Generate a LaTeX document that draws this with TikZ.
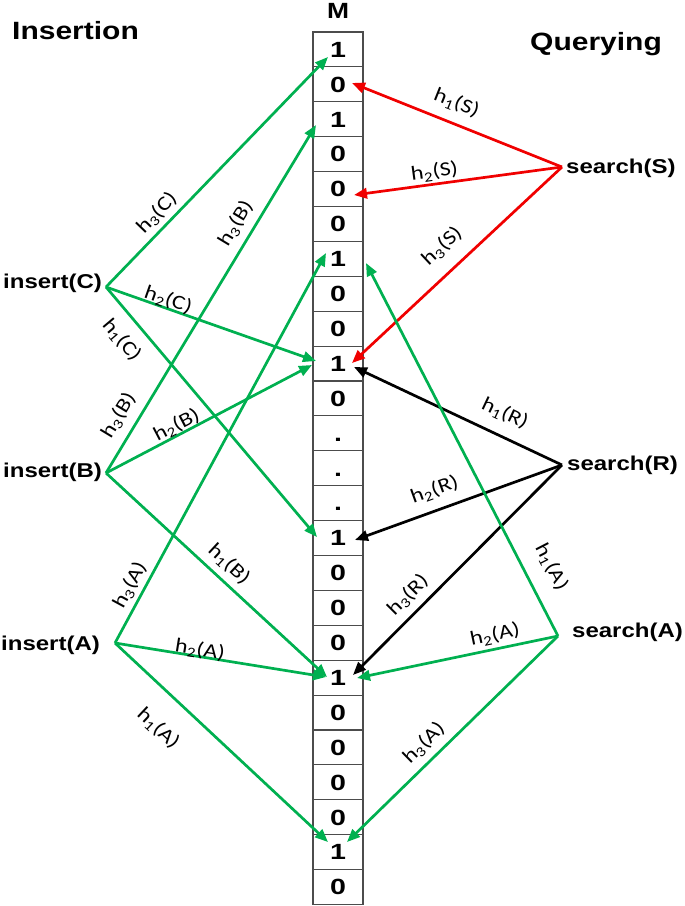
\documentclass[tikz,border=0pt]{standalone}
\usepackage{fontspec}
\setmainfont{Liberation Sans}
\newfontfamily\nodefam[FakeStretch=1.2]{Liberation Sans}
\newfontfamily\digfam[FakeStretch=1.3]{Liberation Sans}
\newfontfamily\labfam[FakeStretch=1.2]{Carlito}
\usetikzlibrary{arrows.meta}
\definecolor{bgreen}{RGB}{0,176,80}
\definecolor{bred}{RGB}{240,0,0}
\begin{document}
\begin{tikzpicture}[x=1pt,y=-1pt,
  cell/.style={draw=black!70,line width=1.1pt,minimum width=50pt,minimum height=34.9pt,inner sep=0pt,
    text height=15.5pt,text depth=0pt,font=\digfam\bfseries\fontsize{22}{22}\selectfont},
  title/.style={anchor=base west,inner sep=0pt,font=\nodefam\bfseries\fontsize{25}{25}\selectfont},
  op/.style={anchor=west,inner sep=0pt,font=\nodefam\bfseries\fontsize{20}{20}\selectfont},
  lab/.style={sloped,inner sep=0pt,font=\labfam\fontsize{20}{20}\selectfont},
  conn/.style={line width=2.7pt,-{Triangle[length=13pt,width=10.5pt]}},
  garrow/.style={conn,draw=bgreen},
  rarrow/.style={conn,draw=bred},
  karrow/.style={conn,draw=black}]
\useasboundingbox (0,0) rectangle (685,906);
% memory cells
\foreach \v [count=\i from 0] in {1,0,1,0,0,0,1,0,0,1,0,.,.,.,1,0,0,0,1,0,0,0,0,1,0}
  \node[cell] (c\i) at (338,49.45+34.9*\i) {\v};
% titles
\node[anchor=base,inner sep=0pt,font=\nodefam\bfseries\fontsize{22}{22}\selectfont] (M) at (338,18.5) {M};
\node[title] (ins) at (12,39) {Insertion};
\node[title] (qry) at (530,50) {Querying};
% operation nodes
\node[op] (insC) at (3,283) {insert(C)};
\node[op] (insB) at (3,472) {insert(B)};
\node[op] (insA) at (1,645) {insert(A)};
\node[op] (srS) at (566,168) {search(S)};
\node[op] (srR) at (567,465) {search(R)};
\node[op] (srA) at (572,632) {search(A)};
% connector start points
\coordinate (pC) at (106,287);
\coordinate (pB) at (106,473);
\coordinate (pA) at (115,643);
\coordinate (pS) at (562,167);
\coordinate (pR) at (562,465);
\coordinate (qA) at (558,636);
% connector tips
\coordinate (t3C) at (328,57);
\coordinate (t3B) at (316,125);
\coordinate (t2C) at (316,361);
\coordinate (t1C) at (317,537);
\coordinate (t2B) at (312,365);
\coordinate (t1B) at (327,677);
\coordinate (t3A) at (326,253);
\coordinate (t2A) at (326,677);
\coordinate (t1A) at (328,842);
\coordinate (u1S) at (352,83);
\coordinate (u2S) at (354,195);
\coordinate (u3S) at (352,363);
\coordinate (u1R) at (354,367);
\coordinate (u2R) at (355,540);
\coordinate (u3R) at (353,675);
\coordinate (u1A) at (366,263);
\coordinate (u2A) at (357,678);
\coordinate (u3A) at (347,842);
% insertion connectors
\draw[garrow] (pC) -- node[lab,pos=0.277,yshift=14.7pt] (l3C) {h\textsubscript{3}(C)} (t3C);
\draw[garrow] (pB) -- node[lab,pos=0.691,yshift=17.9pt] (l3Ba) {h\textsubscript{3}(B)}
                      node[lab,pos=0.1375,yshift=19pt] (l3Bb) {h\textsubscript{3}(B)} (t3B);
\draw[garrow] (pC) -- node[lab,pos=0.283,yshift=8.4pt] (l2C) {h\textsubscript{2}(C)} (t2C);
\draw[garrow] (pC) -- node[lab,pos=0.155,yshift=-22.2pt] (l1C) {h\textsubscript{1}(C)} (t1C);
\draw[garrow] (pB) -- node[lab,pos=0.365,yshift=9.7pt] (l2B) {h\textsubscript{2}(B)} (t2B);
\draw[garrow] (pB) -- node[lab,pos=0.506,yshift=16.5pt] (l1B) {h\textsubscript{1}(B)} (t1B);
\draw[garrow] (pA) -- node[lab,pos=0.131,yshift=14.4pt] (l3A) {h\textsubscript{3}(A)} (t3A);
\draw[garrow] (pA) -- node[lab,pos=0.398,yshift=6.6pt] (l2A) {h\textsubscript{2}(A)} (t2A);
\draw[garrow] (pA) -- node[lab,pos=0.309,yshift=-33pt] (l1A) {h\textsubscript{1}(A)} (t1A);
% querying connectors
\draw[rarrow] (pS) -- node[lab,pos=0.537,yshift=20pt] (m1S) {h\textsubscript{1}(S)} (u1S);
\draw[rarrow] (pS) -- node[lab,pos=0.605,yshift=12.3pt] (m2S) {h\textsubscript{2}(S)} (u2S);
\draw[rarrow] (pS) -- node[lab,pos=0.493,yshift=24pt] (m3S) {h\textsubscript{3}(S)} (u3S);
\draw[karrow] (pR) -- node[lab,pos=0.32,yshift=22.5pt] (m1R) {h\textsubscript{1}(R)} (u1R);
\draw[karrow] (pR) -- node[lab,pos=0.583,yshift=19.9pt] (m2R) {h\textsubscript{2}(R)} (u2R);
\draw[karrow] (pR) -- node[lab,pos=0.678,yshift=17.4pt] (m3R) {h\textsubscript{3}(R)} (u3R);
\draw[garrow] (qA) -- node[lab,pos=0.154,yshift=26pt] (m1A) {h\textsubscript{1}(A)} (u1A);
\draw[garrow] (qA) -- node[lab,pos=0.299,yshift=13.9pt] (m2A) {h\textsubscript{2}(A)} (u2A);
\draw[garrow] (qA) -- node[lab,pos=0.579,yshift=17pt] (m3A) {h\textsubscript{3}(A)} (u3A);
\end{tikzpicture}
\end{document}
